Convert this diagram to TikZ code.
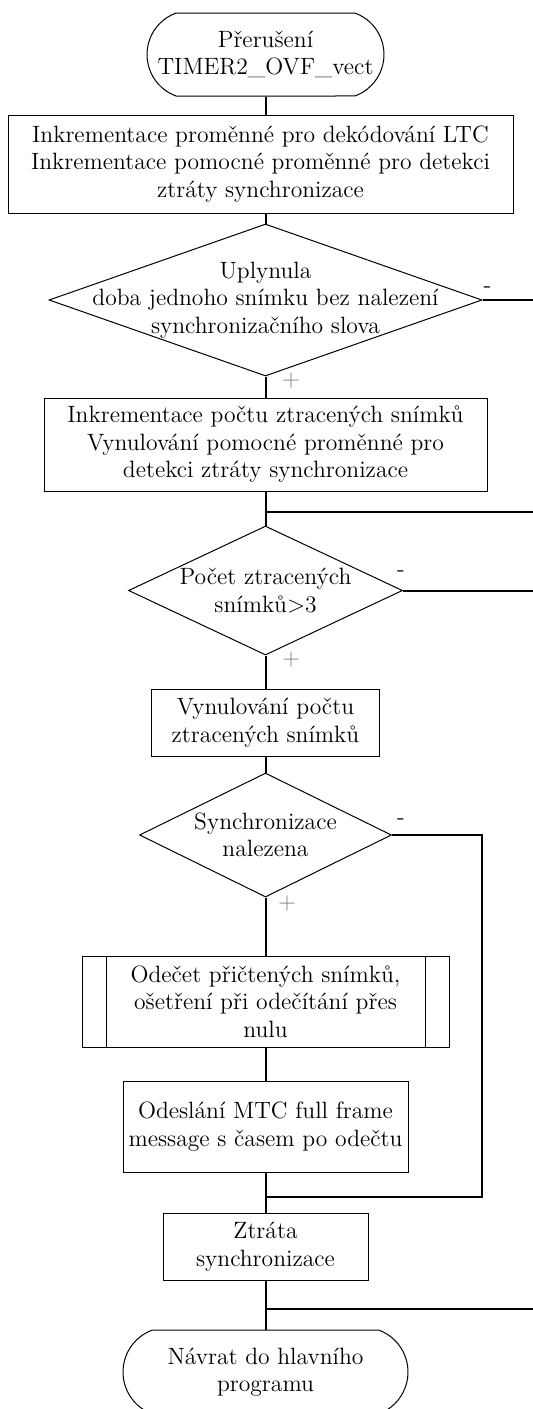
\documentclass[tikz,border=0pt]{standalone}
\usepackage{fontspec}
\usetikzlibrary{shapes.geometric,shapes.misc}
\tikzset{
  box/.style={draw, line width=0.5pt, rectangle, align=center, inner sep=0pt},
  dec/.style={draw, line width=0.5pt, diamond, inner sep=0pt},
  term/.style={draw, line width=0.5pt, rounded rectangle, rounded rectangle arc length=140, align=center, inner sep=0pt},
  link/.style={line width=1pt},
  minus/.style={inner sep=0pt},
  plus/.style={inner sep=0pt, text=gray},
}
\begin{document}
\begin{tikzpicture}[x=0.5pt,y=-0.5pt,every node/.style={font=\fontsize{11.8}{13.7}\selectfont}]
            \useasboundingbox (0,0) rectangle (533,1409);
            \node[term, minimum width=118.5pt, minimum height=41.5pt] (start) at (265.5,54.5) {Přerušení\\TIMER2\_OVF\_vect};
            \node[box, minimum width=252.5pt, minimum height=49pt] (inc) at (260.5,164) {Inkrementace proměnné pro dekódování LTC\\Inkrementace pomocné proměnné pro detekci\\ztráty synchronizace};
            \node[dec, minimum width=216.5pt, minimum height=76pt] (d1) at (265.5,300) {};
            \node[align=center] (d1t) at (d1) {Uplynula\\doba jednoho snímku bez nalezení\\synchronizačního slova};
            \node[box, minimum width=221.5pt, minimum height=46.5pt] (cnt) at (265.5,444.5) {Inkrementace počtu ztracených snímků\\Vynulování pomocné proměnné pro\\detekci ztráty synchronizace};
            \node[dec, minimum width=137pt, minimum height=64.5pt] (d2) at (265.5,590.5) {};
            \node[align=center] (d2t) at (d2) {Počet ztracených\\snímků>3};
            \node[box, minimum width=114pt, minimum height=33.5pt] (clr) at (265.5,722.5) {Vynulování počtu\\ztracených snímků};
            \node[dec, minimum width=126pt, minimum height=62pt] (d3) at (265.5,835) {};
            \node[align=center] (d3t) at (d3) {Synchronizace\\nalezena};
            \node[box, minimum width=183.5pt, minimum height=45.5pt] (sub) at (265.5,1001.5) {Odečet přičtených snímků,\\ošetření při odečítání přes\\nulu};
            \node[box, minimum width=142.5pt, minimum height=45.5pt] (mtc) at (265.5,1126.5) {Odeslání MTC full frame\\message s časem po odečtu};
            \node[box, minimum width=102.5pt, minimum height=33.5pt] (lost) at (265.5,1246.5) {Ztráta\\synchronizace};
            \node[term, minimum width=142.5pt, minimum height=42pt] (end) at (265.5,1372) {Návrat do hlavního\\programu};
            \draw[line width=0.5pt] ([xshift=12.5pt]sub.north west) -- ([xshift=12.5pt]sub.south west);
            \draw[line width=0.5pt] ([xshift=-12pt]sub.north east) -- ([xshift=-12pt]sub.south east);
            \coordinate (o1) at (533,300);
            \coordinate (o2) at (533,512);
            \coordinate (o3) at (533,590.5);
            \coordinate (r3) at (482,1197);
            \coordinate (o4) at (533,1309);
            \draw[link] (start.south) -- (start.south |- inc.north);
            \draw[link] (start.south |- inc.south) -- (d1.north);
            \draw[link] (d1.east) -- (o1) node[minus, pos=0, xshift=2.5pt, yshift=5pt] {-};
            \draw[link] (d1.south) -- (cnt.north) node[plus, pos=0, xshift=12.75pt, yshift=-2pt] {+};
            \draw[link] (cnt.south) -- (d2.north);
            \draw[link] (cnt.south |- o2) -- (o2);
            \draw[link] (d2.east) -- (o3) node[minus, pos=0, xshift=-1pt, yshift=8.5pt] {-};
            \draw[link] (d2.south) -- (clr.north) node[plus, pos=0, xshift=12.75pt, yshift=-2pt] {+};
            \draw[link] (clr.south) -- (d3.north);
            \draw[link] (d3.east) -| (r3) -- (r3 -| lost.north);
            \node[minus, xshift=4.5pt, yshift=6.5pt] at (d3.east) {-};
            \draw[link] (d3.south) -- (sub.north) node[plus, pos=0, xshift=10.75pt, yshift=-3pt] {+};
            \draw[link] (sub.south) -- (mtc.north);
            \draw[link] (mtc.south) -- (lost.north);
            \draw[link] (lost.south) -- (end.north);
            \draw[link] (lost.south |- o4) -- (o4);
        \end{tikzpicture}
\end{document}
